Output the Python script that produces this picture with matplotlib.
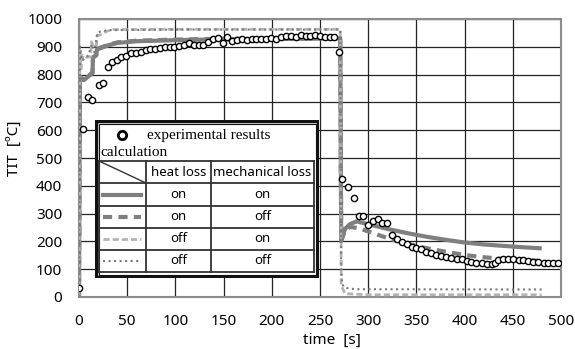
import matplotlib
matplotlib.use('Agg')
import matplotlib.pyplot as plt
from matplotlib.lines import Line2D
from matplotlib.patches import Rectangle

# experimental TIT [degC] vs time [s]
exp_t = [0, 4, 9, 14, 21, 25, 30, 34, 39, 44, 49, 54, 59, 64, 69, 74, 79, 84, 89, 94,
         99, 104, 109, 114, 119, 124, 129, 134, 139, 144, 149, 154, 159, 164, 169, 174,
         179, 184, 189, 194, 199, 204, 210, 215, 220, 225, 230, 235, 240, 245, 250, 255,
         260, 265, 270, 273, 279, 285, 290, 295, 300, 305, 310, 314, 319, 325, 330, 335,
         340, 345, 350, 355, 360, 365, 370, 375, 381, 386, 392, 397, 402, 407, 412, 418,
         423, 428, 432, 435, 440, 445, 450, 456, 461, 466, 471, 476, 482, 487, 492, 497]
exp_T = [32, 606, 720, 709, 763, 769, 828, 846, 852, 862, 867, 877, 879, 882, 888, 891,
         893, 894, 899, 898, 898, 902, 905, 914, 905, 905, 905, 918, 928, 932, 914, 937,
         921, 924, 928, 926, 927, 927, 927, 928, 930, 928, 934, 939, 939, 937, 942, 939,
         940, 944, 939, 937, 937, 937, 880, 423, 397, 355, 291, 291, 259, 274, 279, 265,
         265, 223, 209, 199, 191, 179, 175, 171, 163, 157, 151, 147, 145, 139, 136, 136,
         131, 127, 123, 121, 119, 119, 123, 133, 137, 136, 136, 133, 133, 131, 127, 125,
         123, 123, 121, 121]

# calculation: heat loss on / mechanical loss on
c1_t = [0, 1, 5, 12, 14, 14.5, 18, 18.5, 23, 30, 40, 60, 100, 150, 200, 270, 271,
        272, 276, 281, 288, 300, 320, 340, 360, 380, 400, 420, 440, 460, 480]
c1_T = [0, 790, 780, 800, 805, 860, 870, 890, 896, 905, 914, 920, 924, 927, 928, 930, 930,
        205, 245, 262, 272, 262, 245, 230, 217, 206, 196, 189, 184, 179, 175]
# heat loss on / mechanical loss off
c2_t = [0, 1, 5, 12, 14, 14.5, 18, 18.5, 23, 30, 40, 60, 100, 150, 200, 270, 271,
        272, 276, 281, 290, 300, 320, 340, 360, 380, 400, 420, 440, 460, 480]
c2_T = [0, 792, 782, 802, 808, 862, 872, 892, 898, 907, 916, 922, 926, 929, 930, 932, 932,
        200, 240, 252, 248, 236, 212, 192, 176, 163, 151, 143, 137, 133, 130]
# heat loss off / mechanical loss on
c3_t = [0, 1, 2, 4, 8, 12, 13, 15, 18, 19, 24, 28, 35, 100, 270, 271, 272, 276, 300, 480]
c3_T = [0, 890, 820, 870, 862, 865, 918, 900, 905, 940, 945, 955, 962, 963, 963, 963, 40, 12, 8, 8]
# heat loss off / mechanical loss off
c4_t = [0, 1, 3, 10, 13, 16, 19, 22, 30, 100, 270, 271, 272, 273, 276, 286, 480]
c4_T = [0, 900, 850, 870, 910, 880, 950, 955, 960, 962, 962, 962, 100, 45, 33, 28, 27]

fig = plt.figure(figsize=(5.75, 3.49), dpi=100)
ax = fig.add_axes([79/575, 52/349, 482/575, 278/349])

ax.plot(c1_t, c1_T, color='#7f7f7f', lw=3, solid_capstyle='butt', zorder=3)
ax.plot(c2_t, c2_T, color='#7f7f7f', lw=3, dashes=(2.2, 1.5), zorder=3)
ax.plot(c3_t, c3_T, color='#b3b3b3', lw=2, dashes=(2.2, 1.1), zorder=3)
ax.plot(c4_t, c4_T, color='#7a7a7a', lw=1.5, ls=':', zorder=3)
ax.plot(exp_t, exp_T, 'o', ms=4.5, mfc='white', mec='black', mew=1.0, zorder=4)

ax.set_xlim(0, 500)
ax.set_ylim(0, 1000)
ax.set_xticks(range(0, 501, 50))
ax.set_yticks(range(0, 1001, 100))
ax.grid(True, color='#222222', lw=0.9)
ax.set_axisbelow(True)
for s in ax.spines.values():
    s.set_color('#8c8c8c')
    s.set_linewidth(1.5)
ax.tick_params(length=0, pad=12, labelsize=11)
for lab in ax.get_xticklabels() + ax.get_yticklabels():
    lab.set_family('Noto Sans')
ax.set_xlabel('time  [s]', fontsize=11, family='Noto Sans')
ax.set_ylabel('TIT  [ºC]', fontsize=11, family='Noto Sans')
ax.xaxis.set_label_coords(0.525, -0.128)
ax.yaxis.set_label_coords(-0.118, 0.536)

# legend box, drawn in pixel units of the figure
L, R, T, B = 95, 319, 120, 278
lg = fig.add_axes([L/575, 1 - B/349, (R - L)/575, (B - T)/349])
lg.set_xlim(L, R)
lg.set_ylim(B, T)
lg.axis('off')
lg.add_patch(Rectangle((L + 1, T + 1), R - L - 2, B - T - 2, fc='white', ec='#111111', lw=2.5))
lg.add_patch(Rectangle((L + 3.5, T + 3.5), R - L - 7, B - T - 7, fc='none', ec='#111111', lw=0.8))

lg.plot([122], [135], 'o', ms=6, mfc='white', mec='black', mew=2)
serif = ['Liberation Serif', 'DejaVu Serif']
lg.text(147, 135, 'experimental results', family=serif, fontsize=11, va='center')
lg.text(100, 153, 'calculation', family=serif, fontsize=11, va='center')

col_x = [99, 146, 211, 314]
row_y = [161, 183, 206, 228, 250, 272]
tc = '#333333'
for x in col_x:
    lg.plot([x, x], [row_y[0], row_y[-1]], color=tc, lw=1.3)
for y in row_y:
    lg.plot([col_x[0], col_x[-1]], [y, y], color=tc, lw=1.3)
lg.plot([col_x[0], col_x[1]], [row_y[0], row_y[1]], color=tc, lw=1.0)

sans = 'Noto Sans'
lg.text(178.5, 172, 'heat loss', family=sans, fontsize=9.5, ha='center', va='center')
lg.text(262.5, 172, 'mechanical loss', family=sans, fontsize=9.5, ha='center', va='center')

heat = ['on', 'on', 'off', 'off']
mech = ['on', 'off', 'on', 'off']
styles = [dict(color='#7f7f7f', lw=3),
          dict(color='#7f7f7f', lw=3, dashes=(2.2, 1.5)),
          dict(color='#b3b3b3', lw=2, dashes=(2.2, 1.1)),
          dict(color='#7a7a7a', lw=1.5, ls=':')]
for i in range(4):
    yc = (row_y[i + 1] + row_y[i + 2]) / 2
    lg.add_line(Line2D([103, 141], [yc, yc], **styles[i]))
    lg.text(178.5, yc, heat[i], family=sans, fontsize=9.5, ha='center', va='center')
    lg.text(262.5, yc, mech[i], family=sans, fontsize=9.5, ha='center', va='center')

plt.savefig('out.png', dpi=100)
